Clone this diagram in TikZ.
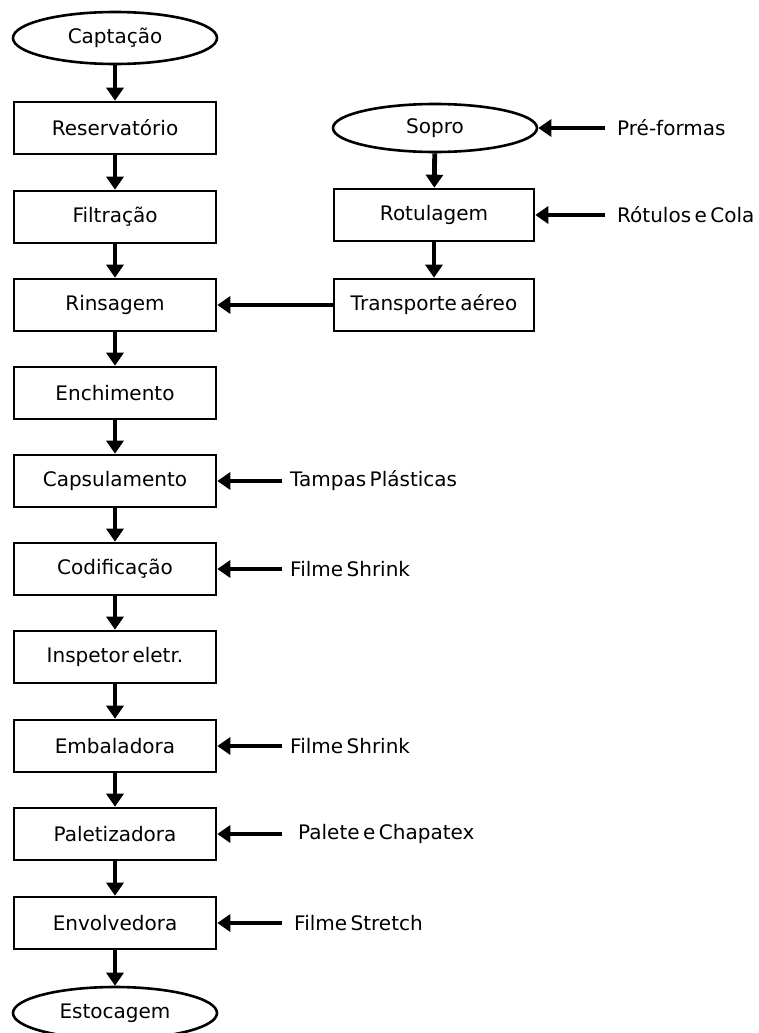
\documentclass[tikz,border=0pt]{standalone}
\usepackage{fontspec}
\setmainfont{DejaVu Sans}[WordSpace={0.55}]
\usetikzlibrary{arrows.meta,shapes.geometric}
\begin{document}
\begin{tikzpicture}[x=1pt,y=-1pt,
  every node/.style={font=\fontsize{20}{24}\selectfont},
  box/.style={draw,line width=2.6pt,minimum width=202pt,minimum height=52pt,inner sep=0pt},
  oval/.style={draw,ellipse,line width=2.6pt,minimum width=204pt,minimum height=52pt,inner sep=0pt},
  lbl/.style={anchor=west,inner sep=0pt},
  flow/.style={line width=4.8pt,-{Triangle[length=13pt,width=17pt]}},
  feed/.style={flow,shorten <=12pt}
]
\useasboundingbox (0,0) rectangle (759,1033);
\node[oval] (capt) at (115,38) {Captação};
\node[box] (res) at (115,128) {Reservatório};
\node[box] (filt) at (115,217) {Filtração};
\node[box] (rins) at (115,305) {Rinsagem};
\node[box] (ench) at (115,393) {Enchimento};
\node[box] (caps) at (115,481) {Capsulamento};
\node[box] (cod) at (115,569) {Codificação};
\node[box] (insp) at (115,657) {Inspetor eletr.};
\node[box] (emb) at (115,746) {Embaladora};
\node[box] (pal) at (115,834) {Paletizadora};
\node[box] (env) at (115,923) {Envolvedora};
\node[oval] (est) at (115,1013) {Estocagem};

\node[oval,minimum width=204pt,minimum height=48pt] (sopro) at (435,128) {Sopro};
\node[box,minimum width=200pt] (rot) at (434,215) {Rotulagem};
\node[box,minimum width=200pt] (trans) at (434,305) {Transporte aéreo};

\node[lbl] (pf) at (617,128) {Pré-formas};
\node[lbl] (rc) at (617,215) {Rótulos e Cola};
\node[lbl] (tp) at (290,481) {Tampas Plásticas};
\node[lbl] (fs1) at (290,569) {Filme Shrink};
\node[lbl] (fs2) at (290,746) {Filme Shrink};
\node[lbl] (pc) at (298,834) {Palete e Chapatex};
\node[lbl] (fst) at (294,923) {Filme Stretch};

\draw[flow] (capt) -- (res);
\draw[flow] (res) -- (filt);
\draw[flow] (filt) -- (rins);
\draw[flow] (rins) -- (ench);
\draw[flow] (ench) -- (caps);
\draw[flow] (caps) -- (cod);
\draw[flow] (cod) -- (insp);
\draw[flow] (insp) -- (emb);
\draw[flow] (emb) -- (pal);
\draw[flow] (pal) -- (env);
\draw[flow] (env) -- (est);
\draw[flow] (sopro) -- (rot);
\draw[flow] (rot) -- (trans);
\draw[flow] (trans) -- (rins);

\draw[feed] (pf.west) -- (sopro.east);
\draw[feed] (rc.west) -- (rot.east);
\draw[feed,shorten <=8pt] (tp.west) -- (caps.east);
\draw[feed,shorten <=8pt] (fs1.west) -- (cod.east);
\draw[feed,shorten <=8pt] (fs2.west) -- (emb.east);
\draw[feed,shorten <=16pt] (pc.west) -- (pal.east);
\draw[feed,shorten <=12pt] (fst.west) -- (env.east);
\end{tikzpicture}
\end{document}
